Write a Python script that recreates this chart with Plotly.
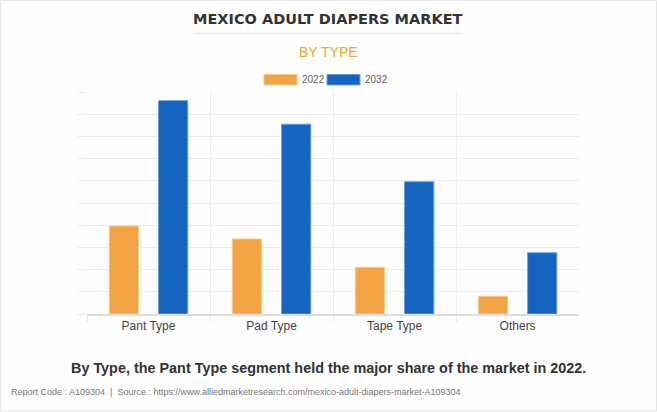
import plotly.graph_objects as go

categories = ["Pant Type", "Pad Type", "Tape Type", "Others"]
values_2022 = [3.96, 3.38, 2.10, 0.80]
values_2032 = [9.61, 8.55, 5.96, 2.76]
series_names = ["2022", "2032"]

W, H = 657, 412
L, R, T, B = 87, 78, 92, 98
PW, PH = W - L - R, H - T - B

def px(x):
    return (x - L) / PW

def py(y):
    return (H - B - y) / PH

ORANGE = "#F2A444"
BLUE = "#1565C0"

fig = go.Figure()
fig.add_trace(go.Bar(x=categories, y=values_2022, name=series_names[0],
                     marker=dict(color=ORANGE, line=dict(color="#F8CB8E", width=1))))
fig.add_trace(go.Bar(x=categories, y=values_2032, name=series_names[1],
                     marker=dict(color=BLUE, line=dict(color="#6AA3E3", width=1))))

grid = "#EBEBEB"
fig.update_layout(
    width=W, height=H,
    margin=dict(l=L, r=R, t=T, b=B),
    paper_bgcolor="#FEFEFE", plot_bgcolor="#FEFEFE",
    barmode="group", bargap=0.2, bargroupgap=0.405,
    showlegend=False,
    font=dict(family="Liberation Sans, Arial", color="#444"),
)
fig.update_xaxes(tickson="boundaries", showgrid=True, gridcolor=grid, gridwidth=1,
                 range=[-0.5, 3.499],
                 ticks="outside", ticklen=6, tickcolor=grid,
                 tickfont=dict(size=12, color="#444"), showline=True, linecolor="#DDDDDD",
                 linewidth=2, zeroline=False)
fig.update_yaxes(range=[0, 10], dtick=1, showgrid=True, gridcolor=grid, gridwidth=1,
                 showticklabels=False, ticks="outside", ticklen=8, tickcolor=grid,
                 zeroline=False, showline=False)

shapes = [
    # outer frame
    dict(type="rect", xref="paper", yref="paper", x0=px(0.5), x1=px(W - 0.5),
         y0=py(H - 1), y1=py(0.5), line=dict(color="#E6E6E6", width=1)),
    # title underline
    dict(type="line", xref="paper", yref="paper", x0=px(193), x1=px(463),
         y0=py(33.5), y1=py(33.5), line=dict(color="#EEEEEE", width=2)),
    # legend boxes
    dict(type="rect", xref="paper", yref="paper", x0=px(264), x1=px(297),
         y0=py(85), y1=py(74.5), fillcolor=ORANGE, line=dict(color="#F8CB8E", width=1)),
    dict(type="rect", xref="paper", yref="paper", x0=px(327), x1=px(360),
         y0=py(85), y1=py(74.5), fillcolor=BLUE, line=dict(color="#6AA3E3", width=1)),
]

annotations = [
    dict(text="<b>MEXICO ADULT DIAPERS MARKET</b>", x=px(328), y=py(19), xref="paper", yref="paper",
         showarrow=False, font=dict(family="DejaVu Sans", size=14.5, color="#333333"),
         xanchor="center", yanchor="middle"),
    dict(text="BY TYPE", x=px(328), y=py(52), xref="paper", yref="paper",
         showarrow=False, font=dict(family="Liberation Sans, Arial", size=14, color="#F5A623"),
         xanchor="center", yanchor="middle"),
    dict(text=series_names[0], x=px(300), y=py(79.5), xref="paper", yref="paper",
         showarrow=False, font=dict(family="Liberation Sans, Arial", size=10, color="#666"),
         xanchor="left", yanchor="middle"),
    dict(text=series_names[1], x=px(363), y=py(79.5), xref="paper", yref="paper",
         showarrow=False, font=dict(family="Liberation Sans, Arial", size=10, color="#666"),
         xanchor="left", yanchor="middle"),
    dict(text="<b>By Type, the Pant Type segment held the major share of the market in 2022.</b>",
         x=px(328), y=py(368), xref="paper", yref="paper", showarrow=False,
         font=dict(family="Liberation Sans, Arial", size=14.4, color="#333333"),
         xanchor="center", yanchor="middle"),
    dict(text="Report Code : A109304  |  Source : https://www.alliedmarketresearch.com/mexico-adult-diapers-market-A109304",
         x=px(9), y=py(392), xref="paper", yref="paper", showarrow=False,
         font=dict(family="Liberation Sans, Arial", size=9, color="#777777"),
         xanchor="left", yanchor="middle"),
]
fig.update_layout(shapes=shapes, annotations=annotations)

fig.write_html("out.html", config={"displayModeBar": False},
               post_script="document.body.style.margin='0';document.body.style.overflow='hidden';")
